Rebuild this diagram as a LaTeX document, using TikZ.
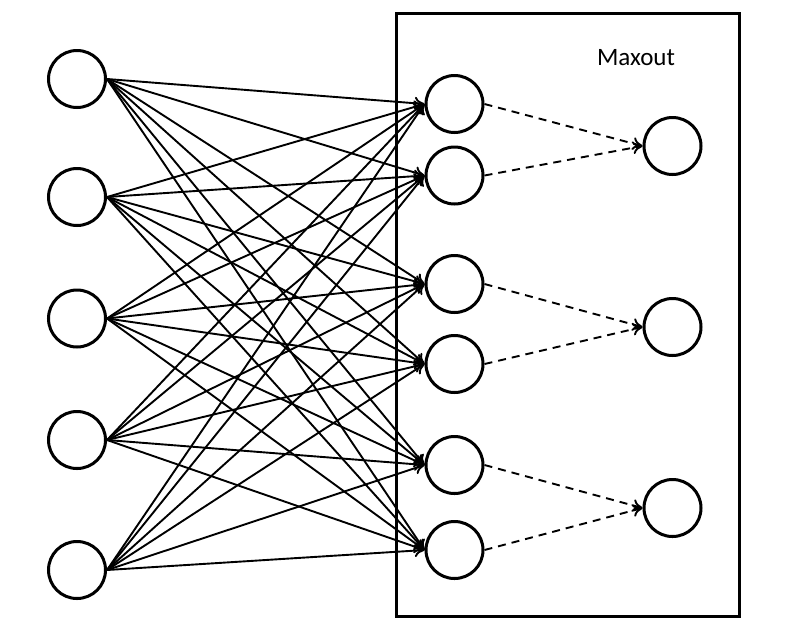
\documentclass[tikz,border=0pt]{standalone}
\usepackage{fontspec}
\setmainfont{Carlito}
\usetikzlibrary{arrows.meta}
\begin{document}
\begin{tikzpicture}[x=1pt,y=-1pt,
  neuron/.style={circle,draw,line width=3pt,minimum size=57pt,inner sep=0pt},
  conn/.style={line width=1.9pt,-{To[length=10pt,width=13pt,line width=1.9pt]}},
  dconn/.style={line width=1.9pt,dash pattern=on 8pt off 6pt,-{To[length=10pt,width=13pt,line width=1.9pt]}}]
\useasboundingbox (0,0) rectangle (800,638);
\node[draw,line width=3pt,minimum width=343pt,minimum height=603pt,inner sep=0pt] (box) at (567.75,314.75) {};
\node[font=\fontsize{25}{30}\selectfont] (lbl) at (636,58) {Maxout};
\foreach \i/\y in {1/79,2/197,3/318.5,4/440,5/570}
  \node[neuron] (in\i) at (77,\y) {};
\foreach \j/\y in {1/104,2/175.5,3/284,4/364,5/465,6/550}
  \node[neuron] (h\j) at (454.5,\y) {};
\foreach \k/\y in {1/146,2/327,3/508}
  \node[neuron] (o\k) at (672.5,\y) {};
\foreach \i in {1,...,5}
  \foreach \j in {1,...,6}
    \draw[conn] (in\i.east) -- (h\j.west);
\draw[dconn] (h1.east) -- (o1.west);
\draw[dconn] (h2.east) -- (o1.west);
\draw[dconn] (h3.east) -- (o2.west);
\draw[dconn] (h4.east) -- (o2.west);
\draw[dconn] (h5.east) -- (o3.west);
\draw[dconn] (h6.east) -- (o3.west);
\end{tikzpicture}
\end{document}
